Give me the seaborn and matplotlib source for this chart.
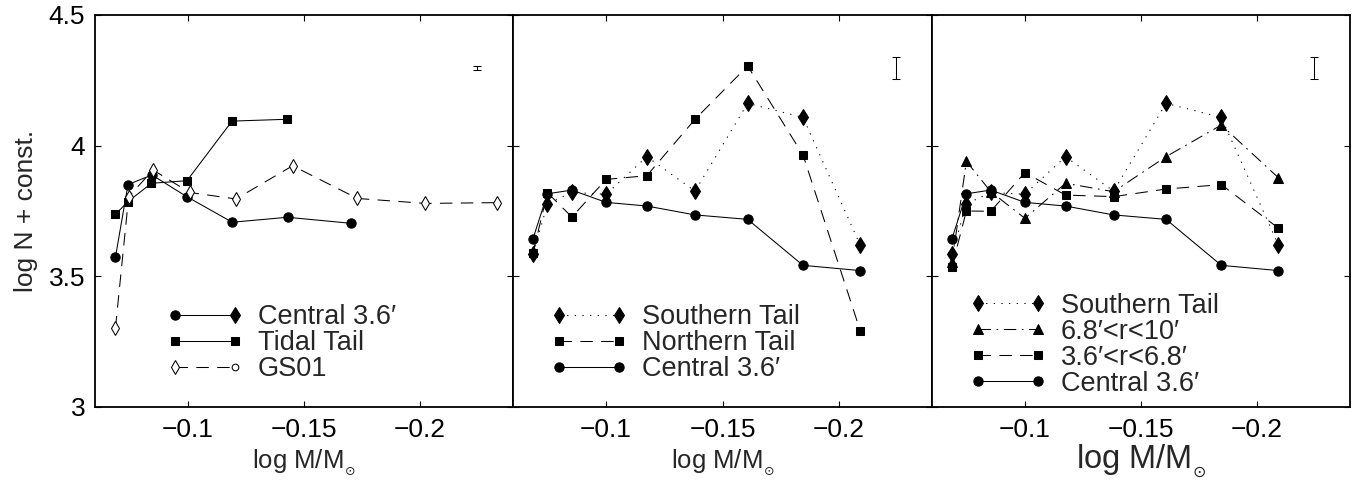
import numpy as np
import pandas as pd
import matplotlib
matplotlib.use("Agg")
import matplotlib.pyplot as plt
import seaborn as sns
from matplotlib.lines import Line2D
from matplotlib.legend_handler import HandlerBase

# ---------------- data ----------------
# Panel 1
p1_central_x = [-0.0688, -0.0742, -0.0845, -0.0995, -0.1191, -0.1429, -0.1701]
p1_central_y = [3.573, 3.851, 3.888, 3.805, 3.707, 3.726, 3.703]
p1_tidal_x = [-0.0688, -0.0742, -0.0843, -0.0996, -0.1190, -0.1427]
p1_tidal_y = [3.737, 3.786, 3.856, 3.866, 4.094, 4.101]
gs01_x = [-0.0688, -0.0745, -0.0850, -0.1007, -0.1207, -0.1451, -0.1730, -0.2023, -0.2329]
gs01_y = [3.301, 3.805, 3.907, 3.821, 3.796, 3.923, 3.798, 3.779, 3.782]

# Panels 2 and 3 share the mass bins
mass_x = [-0.0686, -0.0748, -0.0853, -0.1000, -0.1175, -0.1382, -0.1608, -0.1846, -0.2092]
central_y = [3.644, 3.816, 3.830, 3.783, 3.769, 3.735, 3.718, 3.542, 3.522]
southern_y = [3.586, 3.777, 3.821, 3.814, 3.958, 3.826, 4.162, 4.108, 3.619]
northern_y = [3.590, 3.820, 3.727, 3.871, 3.885, 4.101, 4.305, 3.964, 3.291]
r68_10_y = [3.553, 3.940, 3.824, 3.722, 3.856, 3.824, 3.958, 4.079, 3.877]
r36_68_y = [3.537, 3.750, 3.749, 3.897, 3.811, 3.805, 3.834, 3.851, 3.684]

# typical error bar shown in each panel
err_x = [-0.2245, -0.2247, -0.2246]
err_y = [4.297, 4.299, 4.299]
err_half = [0.008, 0.042, 0.042]

# axes ticks / labels
x_ticks = [-0.1, -0.15, -0.2]
x_ticklabels = ["\u22120.1", "\u22120.15", "\u22120.2"]
y_ticks = [3.0, 3.5, 4.0, 4.5]
y_ticklabels = ["3", "3.5", "4", "4.5"]
x_label = r"log M/M$_{_{\odot}}$"
y_label = "log N + const."

p1_labels = ["Central 3.6\u2032", "Tidal Tail", "GS01"]
p2_labels = ["Southern Tail", "Northern Tail", "Central 3.6\u2032"]
p3_labels = ["Southern Tail", "6.8\u2032<r<10\u2032", "3.6\u2032<r<6.8\u2032", "Central 3.6\u2032"]

# ---------------- style ----------------
sns.set_theme(style="ticks")
plt.rcParams["font.family"] = ["Liberation Sans", "DejaVu Sans"]
plt.rcParams["mathtext.fontset"] = "dejavusans"
plt.rcParams["lines.scale_dashes"] = False
plt.rcParams["axes.linewidth"] = 1.3

DASH = (0, (9, 6))
DOT = (0, (0.9, 4.6))
DASHDOT = (0, (9, 4, 1.2, 4))
LW = 0.75

fig = plt.figure(figsize=(13.54, 4.83), dpi=100)
W, H = 1354.0, 483.0
ax_px = [(95, 418), (513, 419), (932, 418)]
axes = [fig.add_axes([l / W, (H - 407) / H, w / W, 392 / H]) for l, w in ax_px]


def draw(ax, x, y, marker, ls, ms, mfc="black"):
    sns.lineplot(x=x, y=y, ax=ax, sort=False, estimator=None, errorbar=None,
                 color="black", linewidth=LW, linestyle=ls, marker=marker,
                 markersize=ms, markerfacecolor=mfc, markeredgecolor="black",
                 markeredgewidth=0.75)
    return ax.lines[-1]


class PairHandler(HandlerBase):
    """Legend handle: line with a marker at each end (right one may differ)."""

    def __init__(self, right=None):
        super().__init__()
        self.right = right or {}

    def create_artists(self, legend, orig, xdescent, ydescent, width, height,
                       fontsize, trans):
        pad = 0.3 * fontsize
        x0 = -xdescent + pad
        x1 = width - xdescent - pad
        y = (height - ydescent) / 2
        line = Line2D([x0, x1], [y, y])
        line.update_from(orig)
        line.set_marker("None")
        left = Line2D([x0], [y])
        left.update_from(orig)
        left.set_linestyle("None")
        right = Line2D([x1], [y])
        right.update_from(orig)
        right.set_linestyle("None")
        for k, v in self.right.items():
            getattr(right, "set_" + k)(v)
        for a in (line, left, right):
            a.set_transform(trans)
        return [line, left, right]


def add_legend(ax, handles, labels, anchor, hmap):
    ax.legend(handles, labels, handler_map=hmap, loc="upper left",
              bbox_to_anchor=anchor, frameon=False, borderpad=0,
              borderaxespad=0, handlelength=2.80, handletextpad=0.55,
              labelspacing=0.0, fontsize=19.5, handleheight=0.7)


# ---------------- panel 1 ----------------
ax = axes[0]
h_c1 = draw(ax, p1_central_x, p1_central_y, "o", "-", 6.7)
h_t1 = draw(ax, p1_tidal_x, p1_tidal_y, "s", "-", 5.8)
h_g = draw(ax, gs01_x, gs01_y, "d", DASH, 7.5, mfc="white")
add_legend(ax, [h_c1, h_t1, h_g], p1_labels, (0.173, 0.262),
           {h_c1: PairHandler({"marker": "d", "markersize": 8.3}),
            h_t1: PairHandler(),
            h_g: PairHandler({"marker": "o", "markersize": 4.8,
                              "markerfacecolor": "white"})})

# ---------------- panel 2 ----------------
ax = axes[1]
h_s2 = draw(ax, mass_x, southern_y, "d", DOT, 8.3)
h_n2 = draw(ax, mass_x, northern_y, "s", DASH, 5.8)
h_c2 = draw(ax, mass_x, central_y, "o", "-", 6.7)
add_legend(ax, [h_s2, h_n2, h_c2], p2_labels, (0.0907, 0.262),
           {h_s2: PairHandler(), h_n2: PairHandler(), h_c2: PairHandler()})

# ---------------- panel 3 ----------------
ax = axes[2]
h_s3 = draw(ax, mass_x, southern_y, "d", DOT, 8.3)
h_r1 = draw(ax, mass_x, r68_10_y, "^", DASHDOT, 6.5)
h_r2 = draw(ax, mass_x, r36_68_y, "s", DASH, 5.8)
h_c3 = draw(ax, mass_x, central_y, "o", "-", 6.7)
add_legend(ax, [h_s3, h_r1, h_r2, h_c3], p3_labels, (0.091, 0.291),
           {h_s3: PairHandler(), h_r1: PairHandler(), h_r2: PairHandler(),
            h_c3: PairHandler()})

# ---------------- common axis formatting ----------------
for i, ax in enumerate(axes):
    ax.errorbar([err_x[i]], [err_y[i]], yerr=[err_half[i]], fmt="none",
                ecolor="black", elinewidth=LW, capsize=2.7, capthick=LW)
    ax.set_xlim(-0.06, -0.24)
    ax.set_ylim(3.0, 4.5)
    ax.set_xticks(x_ticks)
    ax.set_xticklabels(x_ticklabels)
    ax.set_yticks(y_ticks)
    ax.tick_params(direction="in", top=True, right=True, length=4, width=0.8,
                   labelsize=19, colors="black")
    ax.tick_params(axis="x", pad=8)
    ax.tick_params(axis="y", pad=7)
    for sp in ax.spines.values():
        sp.set_linewidth(1.3)
        sp.set_color("black")
    ax.set_facecolor("white")
    if i == 0:
        ax.set_yticklabels(y_ticklabels)
        ax.set_ylabel(y_label, fontsize=19, labelpad=8)
    else:
        ax.set_yticklabels([])
        ax.set_ylabel("")
    if i == 2:
        ax.set_xlabel(x_label, fontsize=23.5, labelpad=0)
    else:
        ax.set_xlabel(x_label, fontsize=18.5, labelpad=4)

fig.savefig("out.png", dpi=100, facecolor="white")
